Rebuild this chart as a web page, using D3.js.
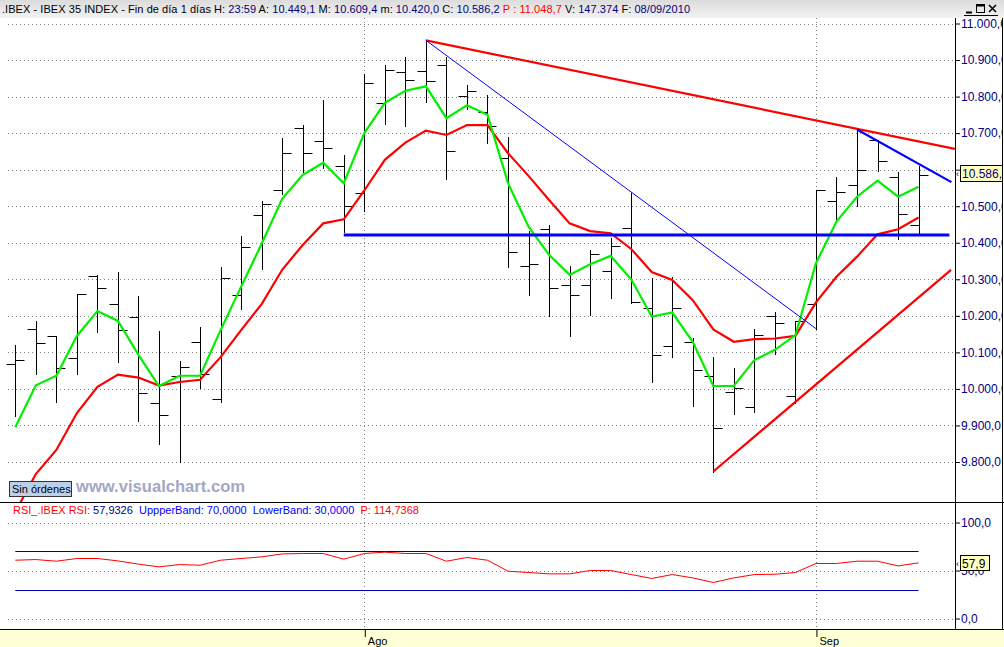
<!DOCTYPE html>
<html><head><meta charset="utf-8">
<script src="https://cdn.jsdelivr.net/npm/d3@7"></script>
<style>
html,body{margin:0;padding:0;background:#fff;overflow:hidden}
svg{display:block;font-family:"Liberation Sans",Arial,sans-serif}
</style></head><body>
<svg id="chart" width="1004" height="647"></svg>
<script>
// ---------------- DATA ----------------
const dates = ["2010-07-08","2010-07-09","2010-07-12","2010-07-13","2010-07-14","2010-07-15","2010-07-16","2010-07-19","2010-07-20","2010-07-21","2010-07-22","2010-07-23","2010-07-26","2010-07-27","2010-07-28","2010-07-29","2010-07-30",
"2010-08-02","2010-08-03","2010-08-04","2010-08-05","2010-08-06","2010-08-09","2010-08-10","2010-08-11","2010-08-12","2010-08-13","2010-08-16","2010-08-17","2010-08-18","2010-08-19","2010-08-20","2010-08-23","2010-08-24","2010-08-25","2010-08-26","2010-08-27","2010-08-30","2010-08-31",
"2010-09-01","2010-09-02","2010-09-03","2010-09-06","2010-09-07","2010-09-08"];
const opens  = [10068,10163,10144,10085,10309,10232,10197,9961,10035,10128,9972,10256,10475,10544,10713,10678,10610,10535,10782,10866,10869,10886,10802,10758,10632,10336,10437,10284,10284,10323,10440,10222,10118,10128,10034,9991,9951,10200,9981,10232,10514,10557,10681,10580,10449.1];
const highs  = [10120,10186,10144,10259,10313,10319,10254,10159,10077,10170,10334,10419,10514,10688,10722,10791,10640,10862,10886,10908,10954,10909,10832,10804,10689,10432,10448,10336,10380,10412,10537,10304,10306,10139,10088,10057,10163,10211,10186,10544,10580,10710,10681,10593,10609.4];
const lows   = [9927,10041,9965,10042,10157,10074,9911,9848,9799,10002,9965,10220,10329,10533,10594,10604,10429,10487,10726,10720,10786,10575,10765,10674,10334,10258,10200,10144,10203,10250,10236,10018,10086,9952,9774,9932,9936,10096,9962,10165,10466,10501,10596,10410,10420.0];
const closes = [10079,10125,10057,10259,10277,10161,9990,9928,10059,10041,10303,10388,10506,10645,10645,10659,10500,10837,10872,10845,10842,10650,10814,10719,10375,10341,10276,10256,10368,10390,10238,10092,10222,10051,9892,10002,10147,10180,10186,10544,10538,10598,10623,10478,10586.2];
const maFast = [9895,10010,10036,10145,10213,10186,10093,10008,10036,10036,10161,10280,10397,10520,10586,10619,10563,10700,10783,10816,10828,10741,10776,10750,10563,10444,10367,10312,10341,10364,10300,10198,10209,10129,10008,10008,10079,10107,10147,10344,10458,10526,10570,10526,10553];
const maSlow = [9663,9767,9833,9934,10006,10039,10031,10009,10019,10025,10087,10161,10232,10326,10394,10453,10464,10543,10627,10674,10707,10695,10722,10722,10645,10583,10517,10453,10432,10426,10383,10320,10298,10243,10163,10129,10136,10138,10145,10237,10307,10362,10423,10437,10469];
const rsiValues = [60.7,61.4,59.7,62.5,62.5,60.0,56.6,53.8,56.2,55.5,60.7,62.5,64.2,67.3,67.7,67.7,61.8,67.7,69.1,67.7,67.7,59.7,63.5,60.7,49.3,47.9,46.5,46.5,50.0,50.0,45.8,41.7,45.8,42.3,37.5,42.3,45.8,46.1,47.9,57.3,57.3,59.7,59.7,54.8,57.9326];
const priceTicks = [9800,9900,10000,10100,10200,10300,10400,10500,10600,10700,10800,10900,11000];
const rsiTicks = [0,50,100];
const rsiBands = [70,30];
const monthNames = {"07":"Jul","08":"Ago","09":"Sep"};
// trend lines drawn on the chart: start [bar index, price], end [bar index, price]
const trendStarts = [[20,10954],[20,10954],[16,10421],[41,10710],[34,9774]];
const trendEnds   = [[45.77,10657],[39,10165],[45.5,10421],[45.6,10566],[45.58,10326]];
const headerTitle = ".IBEX - IBEX 35 INDEX - Fin de día 1 días";
const headerTime = "23:59", headerP = "11.048,7", headerV = "147.374", headerDate = "08/09/2010";
const rsiHeader = {rsi:"57,9326", upper:"70,0000", lower:"30,0000", p:"114,7368"};

// ---------------- SETUP ----------------
const svg = d3.select("#chart");
const W = 1004, H = 647, AX = 955, HEAD = 18, PB = 502, RB = 629;
const navy = "#000080";
const loc = d3.formatLocale({decimal:",", thousands:".", grouping:[3], currency:["",""]});
const fmtP = loc.format(",.1f");
const fmtR = loc.format(".1f");

const x = d3.scaleLinear().domain([0, dates.length - 1]).range([15.3, 918.6]);
const y = d3.scaleLinear().domain([9800, 11000]).range([462, 23.5]);
const yR = d3.scaleLinear().domain([0, 100]).range([618.5, 522.5]);
const cr = v => Math.round(v) + 0.5;

const defs = svg.append("defs");
defs.append("clipPath").attr("id","pclip").append("rect").attr("x",0).attr("y",HEAD).attr("width",AX).attr("height",PB-HEAD);
defs.append("clipPath").attr("id","rclip").append("rect").attr("x",0).attr("y",PB).attr("width",AX).attr("height",RB-PB);
defs.append("clipPath").attr("id","aclip").append("rect").attr("x",AX).attr("y",0).attr("width",1002-AX).attr("height",H);
const hg = defs.append("linearGradient").attr("id","hgrad").attr("x1",0).attr("y1",0).attr("x2",0).attr("y2",1);
hg.append("stop").attr("offset","0").attr("stop-color","#dcdcdc");
hg.append("stop").attr("offset","1").attr("stop-color","#f2f2f2");

svg.append("rect").attr("width",W).attr("height",H).attr("fill","#fff");

// ---------------- HEADER ----------------
svg.append("rect").attr("x",0).attr("y",0).attr("width",W).attr("height",HEAD).attr("fill","url(#hgrad)");
const last = dates.length - 1;
const ht = svg.append("text").attr("x",2).attr("y",13).attr("font-size",11).style("white-space","pre")
  .attr("textLength",688).attr("lengthAdjust","spacing");
const parts = [
  [headerTitle + " H: ","#000"],[headerTime,navy],[" A: ","#000"],[fmtP(opens[last]),navy],
  [" M: ","#000"],[fmtP(highs[last]),navy],[" m: ","#000"],[fmtP(lows[last]),navy],
  [" C: ","#000"],[fmtP(closes[last]),navy],[" P : " + headerP,"#f00"],
  [" V: ","#000"],[headerV,navy],[" F: ","#000"],[headerDate,navy]];
parts.forEach(p => ht.append("tspan").attr("fill",p[1]).text(p[0]));
// window buttons
const wb = svg.append("g").attr("stroke","#000").attr("fill","none");
wb.append("line").attr("x1",966).attr("x2",972).attr("y1",12.5).attr("y2",12.5).attr("stroke-width",2);
wb.append("rect").attr("x",976.5).attr("y",4.5).attr("width",8).attr("height",8);
wb.append("line").attr("x1",976.5).attr("x2",984.5).attr("y1",5.5).attr("y2",5.5).attr("stroke-width",2);
wb.append("path").attr("d","M989,5 L996,12 M996,5 L989,12").attr("stroke-width",1.5);
wb.append("line").attr("x1",964).attr("x2",998).attr("y1",15.5).attr("y2",15.5);

// ---------------- GRIDLINES ----------------
const grid = svg.append("g").attr("stroke","#808080").attr("stroke-dasharray","1,3");
priceTicks.forEach(t => grid.append("line").attr("x1",8).attr("x2",AX).attr("y1",cr(y(t))).attr("y2",cr(y(t))));
rsiTicks.forEach(t => grid.append("line").attr("x1",8).attr("x2",AX).attr("y1",cr(yR(t))).attr("y2",cr(yR(t))));
const monthIdx = dates.map((d,i)=>i).filter(i => i > 0 && dates[i].slice(5,7) !== dates[i-1].slice(5,7));
monthIdx.forEach(i => grid.append("line").attr("x1",cr(x(i))).attr("x2",cr(x(i))).attr("y1",HEAD).attr("y2",RB));

// ---------------- PRICE PANE ----------------
const pp = svg.append("g").attr("clip-path","url(#pclip)");
const bars = pp.append("g").attr("stroke","#000").attr("stroke-width",1);
dates.forEach((d,i) => {
  const bx = cr(x(i));
  bars.append("line").attr("x1",bx).attr("x2",bx).attr("y1",Math.round(y(highs[i]))).attr("y2",Math.round(y(lows[i]))+1);
  bars.append("line").attr("x1",bx-9).attr("x2",bx).attr("y1",cr(y(opens[i]))).attr("y2",cr(y(opens[i])));
  bars.append("line").attr("x1",bx).attr("x2",bx+9).attr("y1",cr(y(closes[i]))).attr("y2",cr(y(closes[i])));
});
const lineP = d3.line().x((v,i)=>x(i)).y(v=>y(v));
pp.append("path").datum(maSlow).attr("d",lineP).attr("fill","none").attr("stroke","#ff0000").attr("stroke-width",2.2);
pp.append("path").datum(maFast).attr("d",lineP).attr("fill","none").attr("stroke","#00f000").attr("stroke-width",2.2);
const trendStyle = [["#ff0000",2.2],["#0000ff",1],["#0000ff",3],["#0000ff",2.2],["#ff0000",2.2]];
trendStarts.forEach((s,k) => {
  const e = trendEnds[k];
  pp.append("line").attr("x1",x(s[0])).attr("y1",y(s[1])).attr("x2",x(e[0])).attr("y2",y(e[1]))
    .attr("stroke",trendStyle[k][0]).attr("stroke-width",trendStyle[k][1]);
});

// Sin órdenes label & watermark
svg.append("text").attr("x",76).attr("y",491.5).attr("font-size",16.6).attr("font-weight","bold")
  .attr("fill","#a3a7c6").text("www.visualchart.com");
svg.append("rect").attr("x",9.5).attr("y",481.5).attr("width",62).attr("height",15).attr("fill","#bdd0ea").attr("stroke","#333");
svg.append("text").attr("x",12).attr("y",493).attr("font-size",11).attr("fill","#000").text("Sin órdenes");

// ---------------- RSI PANE ----------------
const rp = svg.append("g").attr("clip-path","url(#rclip)");
rsiBands.forEach(b => rp.append("line").attr("x1",x(0)).attr("x2",x(last)).attr("y1",cr(yR(b))).attr("y2",cr(yR(b)))
  .attr("stroke","#0000b0").attr("stroke-width",1));
rp.append("path").datum(rsiValues).attr("d",d3.line().x((v,i)=>x(i)).y(v=>yR(v)))
  .attr("fill","none").attr("stroke","#ff0000").attr("stroke-width",1);
const rt = svg.append("text").attr("x",13).attr("y",514).attr("font-size",11).style("white-space","pre");
[["RSI_.IBEX RSI: ","#f00"],[rsiHeader.rsi,navy],["  UppperBand: " + rsiHeader.upper,"#00f"],
 ["  LowerBand: " + rsiHeader.lower,"#00f"],["  P: " + rsiHeader.p,"#f00"]]
 .forEach(p => rt.append("tspan").attr("fill",p[1]).text(p[0]));

// ---------------- BOTTOM AXIS ----------------
svg.append("rect").attr("x",0).attr("y",RB).attr("width",W).attr("height",H-RB).attr("fill","#ffffd6");
const xa = svg.append("g").attr("transform",`translate(0,${RB})`)
  .call(d3.axisBottom(x).tickValues(monthIdx).tickSize(8).tickFormat(i => monthNames[dates[i].slice(5,7)]));
xa.select(".domain").remove();
xa.selectAll(".tick line").attr("stroke","#000").attr("transform","translate(0.5,0)");
xa.selectAll(".tick text").attr("text-anchor","start").attr("x",3).attr("y",16).attr("dy",0)
  .attr("font-size",11).attr("font-family","'Liberation Sans',Arial,sans-serif").attr("fill","#000");

// ---------------- RIGHT AXES ----------------
const axg = svg.append("g").attr("clip-path","url(#aclip)");
const ya = axg.append("g").attr("transform",`translate(${AX},0)`)
  .call(d3.axisRight(y).tickValues(priceTicks).tickSize(5).tickPadding(1).tickFormat(fmtP));
const yra = axg.append("g").attr("transform",`translate(${AX},0)`)
  .call(d3.axisRight(yR).tickValues(rsiTicks).tickSize(5).tickPadding(1).tickFormat(fmtR));
[ya,yra].forEach(a => {
  a.select(".domain").remove();
  a.selectAll(".tick line").attr("stroke","#000");
  a.selectAll(".tick text").attr("fill",navy).attr("font-size",12).attr("font-family","'Liberation Sans',Arial,sans-serif");
});
// last value boxes
axg.append("rect").attr("x",960.5).attr("y",165.5).attr("width",46).attr("height",16).attr("fill","#ffffc0").attr("stroke","#000");
axg.append("text").attr("x",962).attr("y",178).attr("font-size",12).attr("fill",navy).text(fmtP(closes[last]));
svg.append("text").attr("x",956).attr("y",177).attr("font-size",9).attr("fill","#000").text("‹");
axg.append("rect").attr("x",960.5).attr("y",555.5).attr("width",29).attr("height",15).attr("fill","#ffffc0").attr("stroke","#000");
axg.append("text").attr("x",962).attr("y",567.5).attr("font-size",12).attr("fill","#000").text(fmtR(rsiValues[last]));
svg.append("text").attr("x",956).attr("y",567).attr("font-size",9).attr("fill","#000").text("‹");

// ---------------- FRAME LINES ----------------
const fr = svg.append("g").attr("stroke","#000").attr("stroke-width",1);
fr.append("line").attr("x1",AX+0.5).attr("x2",AX+0.5).attr("y1",HEAD).attr("y2",RB);
fr.append("line").attr("x1",1002.5).attr("x2",1002.5).attr("y1",HEAD).attr("y2",RB);
fr.append("line").attr("x1",0).attr("x2",W).attr("y1",PB+0.5).attr("y2",PB+0.5);
fr.append("line").attr("x1",0).attr("x2",W).attr("y1",RB+0.5).attr("y2",RB+0.5);
</script>
</body></html>
